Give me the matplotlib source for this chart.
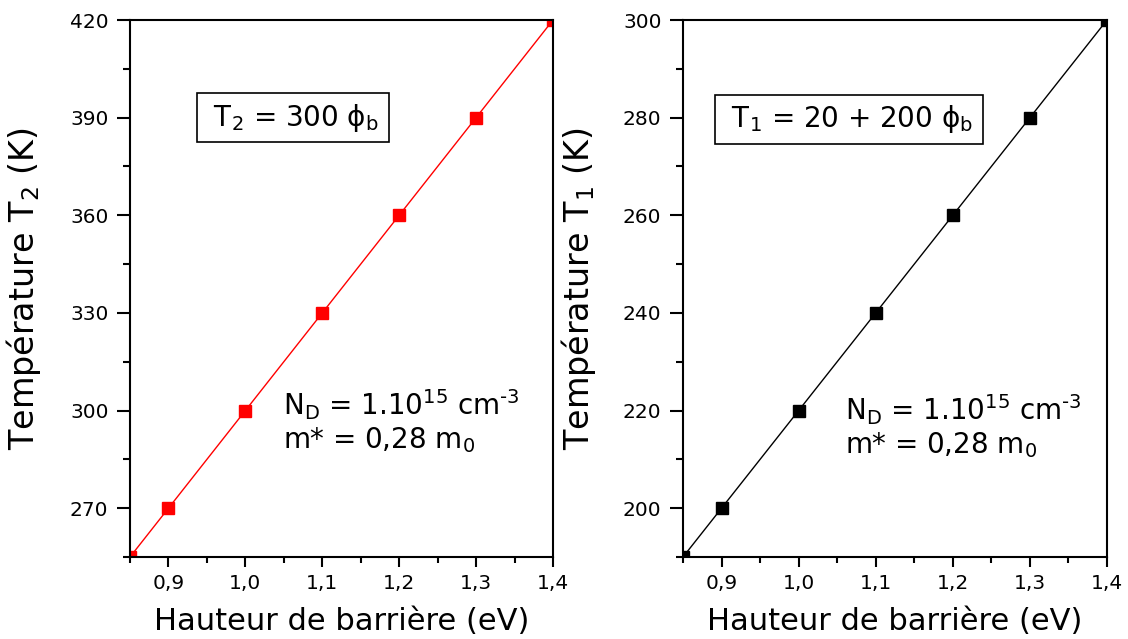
'''Barrier height vs temperature, two panels.'''

from matplotlib import pyplot as plt
from matplotlib.ticker import MultipleLocator

plt.rcParams['font.family'] = ['DejaVu Sans']
plt.rcParams['mathtext.fontset'] = 'dejavusans'

# Data
phi_b = [0.85, 0.9, 1.0, 1.1, 1.2, 1.3, 1.4]
t2_values = [255, 270, 300, 330, 360, 390, 420]
t1_values = [190, 200, 220, 240, 260, 280, 300]
x_ticks = [0.9, 1.0, 1.1, 1.2, 1.3, 1.4]
x_tick_labels = ['0,9', '1,0', '1,1', '1,2', '1,3', '1,4']

nd_text = r'N$_{\rm D}$ = 1.10$^{15}$ cm$^{\text{-3}}$'
mass_text = r'm* = 0,28 m$_0$'


def style_axis(ax, ylim, ymajor, yminor, ylabel):
    ax.set_xlim(0.85, 1.4)
    ax.set_ylim(*ylim)
    ax.set_xticks(x_ticks)
    ax.set_xticklabels(x_tick_labels)
    ax.xaxis.set_minor_locator(MultipleLocator(0.05))
    ax.yaxis.set_major_locator(MultipleLocator(ymajor))
    ax.yaxis.set_minor_locator(MultipleLocator(yminor))
    ax.tick_params(which='both', direction='out', width=1.5,
                   labelsize=14.5, top=False, right=False)
    ax.tick_params(axis='x', which='major', length=7.5, pad=4.5)
    ax.tick_params(axis='x', which='minor', length=4)
    ax.tick_params(axis='y', which='major', length=9.5, pad=6)
    ax.tick_params(axis='y', which='minor', length=5)
    for spine in ax.spines.values():
        spine.set_linewidth(1.5)
    ax.set_xlabel('Hauteur de barrière (eV)', fontsize=22)
    ax.xaxis.set_label_coords(0.5, -0.093)
    ax.set_ylabel(ylabel, fontsize=24)


fig = plt.figure(figsize=(11.28, 6.39), dpi=100)
ax1 = fig.add_axes([130 / 1128, 82 / 639, 423 / 1128, 537 / 639])
ax2 = fig.add_axes([683 / 1128, 82 / 639, 424 / 1128, 537 / 639])

box = dict(boxstyle='square,pad=0.3', facecolor='white',
           edgecolor='black', linewidth=1.2)

# Left panel: T2
ax1.plot(phi_b, t2_values, color='red', linewidth=1, marker='s',
         markersize=8)
style_axis(ax1, (255, 420), 30, 15, r'Température T$_2$ (K)')
ax1.yaxis.set_label_coords(-0.205, 0.5)
ax1.text(0.177, 0.818, ' T$_2$ = 300 \u03d5$_{\\rm b}$ ',
         transform=ax1.transAxes, fontsize=20, va='center', bbox=box)
ax1.text(0.362, 0.264, nd_text, transform=ax1.transAxes, fontsize=20,
         va='baseline')
ax1.text(0.362, 0.203, mass_text, transform=ax1.transAxes, fontsize=20,
         va='baseline')

# Right panel: T1
ax2.plot(phi_b, t1_values, color='black', linewidth=1, marker='s',
         markersize=8)
style_axis(ax2, (190, 300), 20, 10, r'Température T$_1$ (K)')
ax2.yaxis.set_label_coords(-0.2, 0.5)
ax2.text(0.094, 0.815, ' T$_1$ = 20 + 200 \u03d5$_{\\rm b}$ ',
         transform=ax2.transAxes, fontsize=20, va='center', bbox=box)
ax2.text(0.382, 0.255, nd_text, transform=ax2.transAxes, fontsize=20,
         va='baseline')
ax2.text(0.382, 0.194, mass_text, transform=ax2.transAxes, fontsize=20,
         va='baseline')

plt.savefig('out.png', dpi=100)
